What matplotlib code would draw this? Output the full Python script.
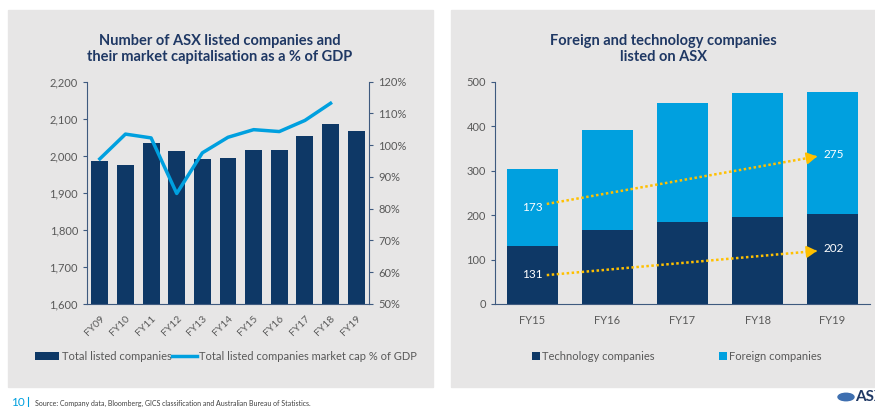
import matplotlib
matplotlib.use("Agg")
import matplotlib.pyplot as plt
from matplotlib.patches import Rectangle
import numpy as np

plt.rcParams['font.family'] = ['Lato', 'DejaVu Sans']

# left chart data
years_left = ["FY09", "FY10", "FY11", "FY12", "FY13", "FY14", "FY15", "FY16", "FY17", "FY18", "FY19"]
total_listed = [1987, 1976, 2035, 2014, 1991, 1993, 2017, 2016, 2053, 2086, 2067]
mcap_pct_gdp = [95.7, 103.5, 102.3, 84.8, 97.6, 102.5, 104.9, 104.3, 107.8, 113.2, np.nan]

# right chart data
years_right = ["FY15", "FY16", "FY17", "FY18", "FY19"]
tech_companies = [131, 167, 185, 196, 202]
foreign_companies = [173, 225, 266, 279, 275]

NAVY = "#0E3866"
LIGHT = "#00A0DF"
GOLD = "#FFC000"
GREY_TXT = "#595959"
SPINE = "#3F5A7F"
TITLE = "#1F3864"
PANEL = "#E7E6E6"

W, H = 875, 407
fig = plt.figure(figsize=(W / 100, H / 100), dpi=100)


def fx(px):
    return px / W


def fy(px):
    return 1 - px / H


# grey panels (behind the axes)
fig.patches.append(Rectangle((fx(8), fy(387)), fx(425), (387 - 10) / H,
                             transform=fig.transFigure, color=PANEL, zorder=-5))
fig.patches.append(Rectangle((fx(451), fy(387)), fx(430), (387 - 10) / H,
                             transform=fig.transFigure, color=PANEL, zorder=-5))

# ---------- left chart ----------
ax1 = fig.add_axes([fx(87), fy(304), fx(369 - 87), (304 - 81.7) / H])
ax1.set_facecolor("none")
x1 = np.arange(len(years_left))
bars1 = ax1.bar(x1, total_listed, width=0.66, color=NAVY, label="Total listed companies")
ax1.set_ylim(1600, 2200)
ax1.set_xlim(-0.5, 10.5)
ax1.set_yticks(range(1600, 2201, 100))
ax1.set_yticklabels([f"{v:,}" for v in range(1600, 2201, 100)])
ax1.set_xticks(x1)
ax1.set_xticklabels(years_left, rotation=45, ha="right", rotation_mode="anchor")

ax2 = ax1.twinx()
ax2.set_facecolor("none")
line, = ax2.plot(x1, mcap_pct_gdp, color=LIGHT, lw=2.5,
                 label="Total listed companies market cap % of GDP")
ax2.set_ylim(50, 120)
ax2.set_yticks(range(50, 121, 10))
ax2.set_yticklabels([f"{v}%" for v in range(50, 121, 10)])

for a in (ax1, ax2):
    a.spines["top"].set_visible(False)
    for s in ("left", "right", "bottom"):
        a.spines[s].set_color(SPINE)
    a.tick_params(colors=GREY_TXT, labelsize=8, length=3)
    a.tick_params(axis="both", color=SPINE)
ax1.spines["right"].set_visible(False)
ax2.spines["left"].set_visible(False)
ax2.spines["bottom"].set_visible(False)
ax1.tick_params(axis="x", length=0, pad=7, labelsize=7.5)

fig.text(fx(220), fy(49), "Number of ASX listed companies and\ntheir market capitalisation as a % of GDP",
         ha="center", va="center", fontsize=10.5, fontweight="bold", color=TITLE, linespacing=1.25)

fig.legend(handles=[bars1, line], loc="center", bbox_to_anchor=(fx(226), fy(356)),
           ncol=2, frameon=False, fontsize=8, handlelength=2.2, handletextpad=0.2,
           columnspacing=0.1, labelcolor=GREY_TXT)

# ---------- right chart ----------
ax3 = fig.add_axes([fx(495), fy(304), fx(870 - 495), (304 - 81.7) / H])
ax3.set_facecolor("none")
x3 = np.arange(len(years_right))
b_tech = ax3.bar(x3, tech_companies, width=0.667, color=NAVY, label="Technology companies")
b_for = ax3.bar(x3, foreign_companies, width=0.667, bottom=tech_companies, color=LIGHT,
                label="Foreign companies")
ax3.set_ylim(0, 500)
ax3.set_xlim(-0.5, 4.5)
ax3.set_yticks(range(0, 501, 100))
ax3.set_xticks(x3)
ax3.set_xticklabels(years_right)
for s in ("top", "right"):
    ax3.spines[s].set_visible(False)
for s in ("left", "bottom"):
    ax3.spines[s].set_color(SPINE)
ax3.tick_params(colors=GREY_TXT, labelsize=8, length=3)
ax3.tick_params(axis="y", color=SPINE)
ax3.tick_params(axis="x", length=0, pad=8)

# growth labels and dotted arrows
first, last = 0, len(years_right) - 1
tech_y0 = tech_companies[first] / 2
for_y0 = tech_companies[first] + foreign_companies[first] / 2
ax3.text(first, tech_y0, str(tech_companies[first]), color="white", fontsize=8.5, ha="center", va="center")
ax3.text(first, for_y0, str(foreign_companies[first]), color="white", fontsize=8.5, ha="center", va="center")
ax3.text(last - 0.125, 125, str(tech_companies[last]), color="white", fontsize=8.5, ha="left", va="center")
ax3.text(last - 0.125, 337, str(foreign_companies[last]), color="white", fontsize=8.5, ha="left", va="center")

arrows = [((0.19, 65), (3.83, 120)), ((0.19, 225), (3.83, 333))]
for (xs, ys), (xe, ye) in arrows:
    slope = (ye - ys) / (xe - xs)
    ax3.plot([xs, xe - 0.05], [ys, ye - 0.05 * slope], color=GOLD, lw=1.8,
             linestyle=(0, (1, 1)))
    ax3.annotate("", xy=(xe, ye), xytext=(xe - 0.1, ye - 0.1 * slope),
                 arrowprops=dict(arrowstyle="-|>,head_length=0.6,head_width=0.35",
                                 color=GOLD, lw=1.5))

fig.text(fx(663), fy(49), "Foreign and technology companies\nlisted on ASX",
         ha="center", va="center", fontsize=10.5, fontweight="bold", color=TITLE, linespacing=1.25)

fig.legend(handles=[b_tech, b_for], loc="center", bbox_to_anchor=(fx(677), fy(356)),
           ncol=2, frameon=False, fontsize=8, handlelength=0.7, handleheight=0.7,
           handletextpad=0.2, columnspacing=5.8, labelcolor=GREY_TXT)

# ---------- footer ----------
fig.text(fx(11), fy(403), "10", color=LIGHT, fontsize=8.5, ha="left", va="center")
fig.lines.append(plt.Line2D([fx(28), fx(28)], [fy(397), fy(407)], transform=fig.transFigure,
                            color=LIGHT, lw=0.8))
fig.text(fx(35), fy(403), "Source: Company data, Bloomberg, GICS classification and Australian Bureau of Statistics.",
         color="#404040", fontsize=5, ha="left", va="center")
fig.text(fx(855), fy(397), "ASX", color=TITLE, fontsize=11, fontweight="bold", ha="left", va="center")
fig.patches.append(plt.Circle((fx(846), fy(397)), 8 / W, transform=fig.transFigure,
                              color="#3E6FB0", zorder=3))

fig.savefig("out.png", dpi=100)
